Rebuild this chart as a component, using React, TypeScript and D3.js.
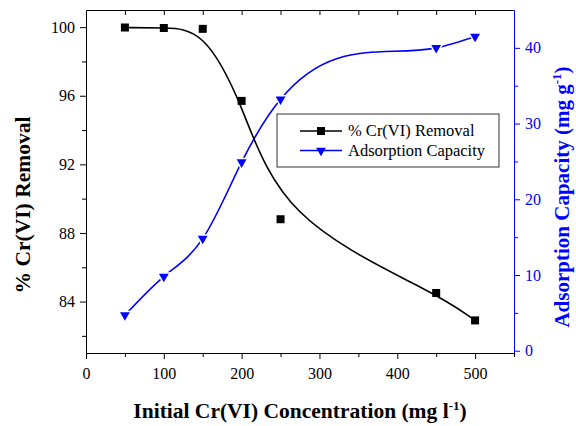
import React, { useRef, useEffect } from 'react';
import * as d3 from 'd3';

// initial Cr(VI) concentration, mg/l
const conc = [50, 100, 150, 200, 250, 450, 500];
// % removal (left axis)
const removal = [99.98, 99.95, 99.9, 95.7, 88.8, 84.5, 82.9];
// adsorption capacity, mg/g (right axis)
const capacity = [4.7, 9.8, 14.8, 24.9, 33.2, 40.0, 41.5];

const xTicks = [0, 100, 200, 300, 400, 500];
const leftTicks = [84, 88, 92, 96, 100];
const rightTicks = [0, 10, 20, 30, 40];

// natural cubic spline in x (like Origin's "Spline" connection), as a d3 curve
class NaturalX {
  _context: any;
  _x: number[] = [];
  _y: number[] = [];
  constructor(context: any) { this._context = context; }
  areaStart() {}
  areaEnd() {}
  lineStart() { this._x = []; this._y = []; }
  point(x: number, y: number) { this._x.push(+x); this._y.push(+y); }
  lineEnd() {
    const xs = this._x, ys = this._y, n = xs.length;
    const ctx = this._context;
    if (!n) return;
    ctx.moveTo(xs[0], ys[0]);
    if (n < 3) { for (let i = 1; i < n; i++) ctx.lineTo(xs[i], ys[i]); return; }
    const h: number[] = [], s: number[] = [];
    for (let i = 0; i < n - 1; i++) { h.push(xs[i + 1] - xs[i]); s.push((ys[i + 1] - ys[i]) / h[i]); }
    // tridiagonal solve for second derivatives
    const M = new Array(n).fill(0);
    const cp: number[] = new Array(n).fill(0), dp: number[] = new Array(n).fill(0);
    for (let i = 1; i < n - 1; i++) {
      const a = h[i - 1], b = 2 * (h[i - 1] + h[i]), c = h[i], d = 6 * (s[i] - s[i - 1]);
      const den = b - a * cp[i - 1];
      cp[i] = c / den;
      dp[i] = (d - a * dp[i - 1]) / den;
    }
    for (let i = n - 2; i >= 1; i--) M[i] = dp[i] - cp[i] * M[i + 1];
    for (let i = 0; i < n - 1; i++) {
      const hi = h[i];
      const m0 = s[i] - hi * (2 * M[i] + M[i + 1]) / 6;
      const m1 = s[i] + hi * (M[i] + 2 * M[i + 1]) / 6;
      ctx.bezierCurveTo(xs[i] + hi / 3, ys[i] + m0 * hi / 3, xs[i + 1] - hi / 3, ys[i + 1] - m1 * hi / 3, xs[i + 1], ys[i + 1]);
    }
  }
}
const curveNaturalX = (context: any) => new NaturalX(context);

const App = () => {
  const ref = useRef<SVGSVGElement>(null);

  useEffect(() => {
    const width = 576;
    const height = 426;
    const margin = { top: 10, right: 62, bottom: 73, left: 86 };
    const font = '"Liberation Serif", "Times New Roman", serif';
    const blue = '#0000ff';

    const svg = d3.select(ref.current).attr('width', width).attr('height', height);
    svg.selectAll('*').remove();

    const x = d3.scaleLinear().domain([0, 550]).range([margin.left, width - margin.right]);
    const yL = d3.scaleLinear().domain([81, 101]).range([height - margin.bottom, margin.top]);
    const yR = d3.scaleLinear().domain([-0.3, 45]).range([height - margin.bottom, margin.top]);

    const bottom = height - margin.bottom;
    const right = width - margin.right;

    // bottom axis
    const gx = svg.append('g').attr('transform', `translate(0,${bottom})`)
      .call(d3.axisBottom(x).tickValues(xTicks).tickSize(6).tickSizeOuter(0).tickPadding(9))
      .call(g => g.selectAll('text').style('font-size', '16px').style('font-family', font).attr('fill', '#000'));
    gx.select('.domain').attr('stroke', '#000');
    svg.append('g').attr('transform', `translate(0,${bottom})`)
      .call(d3.axisBottom(x).tickValues(d3.range(50, 551, 100)).tickSize(4).tickFormat(() => ''))
      .call(g => g.select('.domain').remove());

    // top border with inward ticks
    svg.append('g').attr('transform', `translate(0,${margin.top})`)
      .call(d3.axisBottom(x).tickValues(d3.range(50, 501, 50)).tickSize(5).tickSizeOuter(0).tickFormat(() => ''));

    // left axis
    svg.append('g').attr('transform', `translate(${margin.left},0)`)
      .call(d3.axisLeft(yL).tickValues(leftTicks).tickSize(6).tickSizeOuter(0).tickPadding(5))
      .call(g => g.selectAll('text').style('font-size', '16px').style('font-family', font).attr('fill', '#000'));
    svg.append('g').attr('transform', `translate(${margin.left},0)`)
      .call(d3.axisLeft(yL).tickValues([82, 86, 90, 94, 98]).tickSize(4).tickFormat(() => ''))
      .call(g => g.select('.domain').remove());

    // right axis (blue)
    const gr = svg.append('g').attr('transform', `translate(${right},0)`)
      .call(d3.axisRight(yR).tickValues(rightTicks).tickSize(6).tickSizeOuter(0).tickPadding(5))
      .call(g => g.selectAll('text').style('font-size', '16px').style('font-family', font).attr('fill', blue));
    gr.selectAll('line').attr('stroke', blue);
    gr.select('.domain').attr('stroke', blue);
    svg.append('g').attr('transform', `translate(${right},0)`)
      .call(d3.axisRight(yR).tickValues([5, 15, 25, 35]).tickSize(4).tickFormat(() => ''))
      .call(g => g.select('.domain').remove())
      .selectAll('line').attr('stroke', blue);

    // curves
    const blueLine = d3.line<number>().x((d, i) => x(conc[i])).y(d => yR(d)).curve(curveNaturalX as any);
    svg.append('path').datum(capacity).attr('d', blueLine).attr('fill', 'none').attr('stroke', blue).attr('stroke-width', 1.6);

    const blackLine = d3.line<number>().x((d, i) => x(conc[i])).y(d => yL(d)).curve(d3.curveBasis);
    svg.append('path').datum(removal).attr('d', blackLine).attr('fill', 'none').attr('stroke', '#000').attr('stroke-width', 1.6);

    const tri = d3.symbol().type(d3.symbolTriangle).size(42);
    svg.selectAll('.tri').data(capacity).enter().append('path')
      .attr('d', tri)
      .attr('transform', (d, i) => `translate(${x(conc[i])},${yR(d)}) rotate(180)`)
      .attr('fill', blue).attr('stroke', '#fff').attr('stroke-width', 3).style('paint-order', 'stroke');

    svg.selectAll('.sq').data(removal).enter().append('rect')
      .attr('x', (d, i) => x(conc[i]) - 4)
      .attr('y', d => yL(d) - 4)
      .attr('width', 8).attr('height', 8).attr('fill', '#000');

    // legend
    const lg = svg.append('g').attr('transform', 'translate(277,114)');
    lg.append('rect').attr('width', 222).attr('height', 53).attr('fill', '#fff').attr('stroke', '#333').attr('stroke-width', 1);
    const rows = [
      { label: '% Cr(VI) Removal', color: '#000', marker: 'sq' },
      { label: 'Adsorption Capacity', color: blue, marker: 'tri' }
    ];
    rows.forEach((r, i) => {
      const yy = 17 + i * 19.5;
      lg.append('line').attr('x1', 23).attr('x2', 65).attr('y1', yy).attr('y2', yy).attr('stroke', r.color).attr('stroke-width', 1.6);
      if (r.marker === 'sq') {
        lg.append('rect').attr('x', 40).attr('y', yy - 4).attr('width', 8).attr('height', 8).attr('fill', r.color);
      } else {
        lg.append('path').attr('d', tri).attr('transform', `translate(44,${yy}) rotate(180)`).attr('fill', r.color);
      }
      lg.append('text').attr('x', 71).attr('y', yy + 5).text(r.label)
        .style('font-family', font).style('font-size', '16.5px').attr('fill', '#000');
    });

    // axis titles
    const bx = svg.append('text').attr('x', (margin.left + right) / 2 + 0).attr('y', 418)
      .attr('text-anchor', 'middle').style('font-family', font).style('font-size', '21.5px').style('font-weight', 'bold');
    bx.append('tspan').text('Initial Cr(VI) Concentration (mg l');
    bx.append('tspan').text('-1').attr('dy', -8).style('font-size', '13px');
    bx.append('tspan').text(')').attr('dy', 8);

    svg.append('text').attr('transform', `translate(30,205) rotate(-90)`)
      .attr('text-anchor', 'middle').style('font-family', font).style('font-size', '21.5px').style('font-weight', 'bold')
      .text('% Cr(VI) Removal');

    const ry = svg.append('text').attr('transform', `translate(569,197) rotate(-90)`)
      .attr('text-anchor', 'middle').style('font-family', font).style('font-size', '21px').style('font-weight', 'bold').attr('fill', blue);
    ry.append('tspan').text('Adsorption Capacity (mg g');
    ry.append('tspan').text('-1').attr('dy', -8).style('font-size', '13px');
    ry.append('tspan').text(')').attr('dy', 8);
  }, []);

  return <svg ref={ref} style={{ position: 'absolute', left: 0, top: 0, background: '#fff' }} />;
};

export default App;
